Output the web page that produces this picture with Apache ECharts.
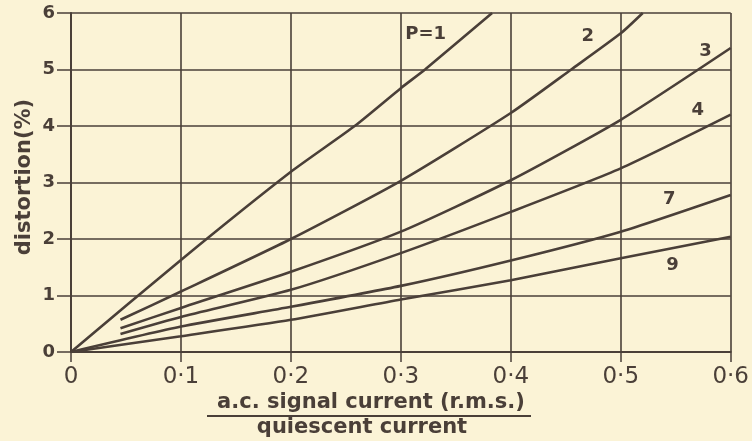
<!DOCTYPE html>
<html>
<head>
<meta charset="utf-8">
<script src="https://cdn.jsdelivr.net/npm/echarts@6/dist/echarts.min.js"></script>
<style>
  html, body { margin: 0; padding: 0; background: #fbf3d6; }
  #chart { width: 752px; height: 441px; }
</style>
</head>
<body>
<div id="chart"></div>
<script>
// curves: [signal ratio, distortion %]
var curveP1 = [[0, 0], [0.1, 1.63], [0.2, 3.19], [0.258, 4], [0.3, 4.67], [0.322, 5], [0.383, 6]];
var curveP2 = [[0.045, 0.57], [0.1, 1.07], [0.2, 2.0], [0.3, 3.03], [0.4, 4.23], [0.455, 5], [0.5, 5.64], [0.52, 6]];
var curveP3 = [[0.045, 0.42], [0.1, 0.78], [0.2, 1.42], [0.3, 2.13], [0.4, 3.04], [0.5, 4.11], [0.6, 5.38]];
var curveP4 = [[0.045, 0.32], [0.1, 0.62], [0.2, 1.1], [0.3, 1.75], [0.4, 2.48], [0.5, 3.25], [0.6, 4.2]];
var curveP7 = [[0, 0], [0.1, 0.45], [0.2, 0.8], [0.3, 1.17], [0.4, 1.62], [0.5, 2.13], [0.6, 2.78]];
var curveP9 = [[0, 0], [0.1, 0.28], [0.2, 0.57], [0.3, 0.93], [0.4, 1.27], [0.5, 1.66], [0.6, 2.04]];

var curveNames = ['P=1', '2', '3', '4', '7', '9'];
var xTickLabels = ['0', '0·1', '0·2', '0·3', '0·4', '0·5', '0·6'];
var yTickLabels = ['0', '1', '2', '3', '4', '5', '6'];

var ink = '#4a3f38';
var font = 'DejaVu Sans';

function curve(name, data, at) {
  return {
    name: name,
    type: 'line',
    data: data,
    smooth: 0.2,
    showSymbol: false,
    lineStyle: { color: ink, width: 2.6 },
    silent: true,
    markPoint: {
      symbol: 'circle',
      symbolSize: 0,
      silent: true,
      label: {
        show: true,
        formatter: name,
        color: ink,
        fontFamily: font,
        fontWeight: 'bold',
        fontSize: 18
      },
      data: [{ coord: at }]
    }
  };
}

var myChart = echarts.init(document.getElementById('chart'));

option = {
  backgroundColor: '#fbf3d6',
  animation: false,
  grid: { left: 71, right: 17, top: 13, bottom: 89 },
  xAxis: {
    type: 'value',
    min: 0,
    max: 0.6,
    interval: 0.1,
    axisLine: { show: true, lineStyle: { color: ink, width: 2 } },
    axisTick: { show: true, length: 10, lineStyle: { color: ink, width: 1.5 } },
    axisLabel: {
      margin: 14,
      color: ink,
      fontFamily: font,
      fontSize: 23,
      formatter: function (v) { return xTickLabels[Math.round(v * 10)]; }
    },
    splitLine: { show: true, lineStyle: { color: ink, width: 1.6 } }
  },
  yAxis: {
    type: 'value',
    min: 0,
    max: 6,
    interval: 1,
    axisLine: { show: true, lineStyle: { color: ink, width: 2 } },
    axisTick: { show: true, length: 14, lineStyle: { color: ink, width: 1.5 } },
    axisLabel: {
      margin: 16,
      color: ink,
      fontFamily: font,
      fontWeight: 'bold',
      fontSize: 18,
      formatter: function (v) { return yTickLabels[v]; }
    },
    splitLine: { show: true, lineStyle: { color: ink, width: 1.6 } }
  },
  graphic: [
    {
      type: 'text', x: 25, y: 177, rotation: Math.PI / 2,
      style: { text: 'distortion(%)', fill: ink, font: 'bold 21px "DejaVu Sans"', align: 'center', verticalAlign: 'middle' }
    },
    {
      type: 'text', x: 371, y: 403,
      style: { text: 'a.c. signal current (r.m.s.)', fill: ink, font: 'bold 21px "DejaVu Sans"', align: 'center', verticalAlign: 'middle' }
    },
    {
      type: 'line', shape: { x1: 207, y1: 416, x2: 531, y2: 416 },
      style: { stroke: ink, lineWidth: 2 }
    },
    {
      type: 'text', x: 362, y: 428,
      style: { text: 'quiescent current', fill: ink, font: 'bold 21px "DejaVu Sans"', align: 'center', verticalAlign: 'middle' }
    }
  ],
  series: [
    curve(curveNames[0], curveP1, [0.3225, 5.63]),
    curve(curveNames[1], curveP2, [0.47, 5.58]),
    curve(curveNames[2], curveP3, [0.577, 5.33]),
    curve(curveNames[3], curveP4, [0.57, 4.27]),
    curve(curveNames[4], curveP7, [0.544, 2.7]),
    curve(curveNames[5], curveP9, [0.547, 1.54])
  ]
};

myChart.setOption(option, true);
</script>
</body>
</html>
